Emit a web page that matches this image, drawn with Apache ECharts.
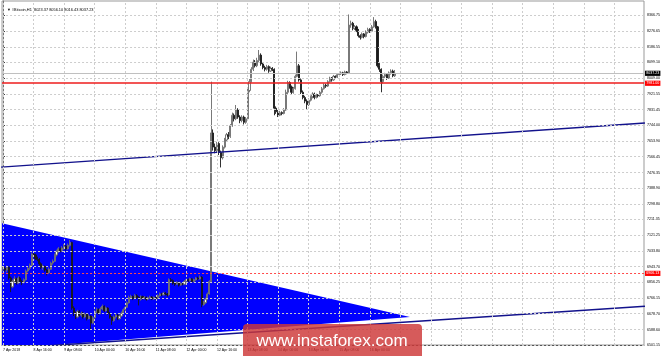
<!DOCTYPE html>
<html><head><meta charset="utf-8">
<script src="https://cdn.jsdelivr.net/npm/echarts@6/dist/echarts.min.js"></script>
<style>html,body{margin:0;padding:0;background:#fff}#c{width:665px;height:356px}</style>
</head><body><div id="c"></div>
<script>
// ---------- data ----------
const symbolName = '#Bitcoin,H1';
const xLabels = ['7 Apr 2018','8 Apr 16:00','9 Apr 08:00','10 Apr 00:00','10 Apr 16:00','11 Apr 08:00','12 Apr 00:00','12 Apr 16:00','13 Apr 08:00','14 Apr 00:00','14 Apr 16:00','15 Apr 08:00','16 Apr 00:00'];
const labelStep = 16;
const totalSlots = 336;
const yTicks = [8366.75,8276.65,8186.55,8099.10,8009.00,7921.55,7831.45,7744.00,7653.90,7566.45,7476.35,7388.90,7298.80,7211.35,7121.25,7033.80,6943.70,6856.25,6766.15,6678.70,6588.60,6501.15];
// [open, close, low, high]
const candles = [
[6930,6935,6918,6948],[6935,6925,6915,6945],[6925,6940,6912,6950],[6940,6880,6870,6945],[6880,6830,6800,6888],
[6830,6860,6822,6870],[6860,6875,6850,6890],[6875,6850,6842,6882],[6850,6880,6845,6890],[6880,6860,6852,6886],
[6860,6855,6840,6870],[6855,6870,6848,6878],[6870,6920,6865,6928],[6920,6935,6912,6945],[6935,6950,6925,6962],
[6950,7015,6945,7025],[7015,7010,6998,7030],[7010,6990,6982,7018],[6990,6985,6975,7000],[6985,6960,6950,6992],
[6960,6940,6930,6968],[6940,6945,6925,6955],[6945,6925,6915,6950],[6925,6910,6895,6932],[6910,6930,6902,6940],
[6930,6965,6925,6972],[6965,6975,6955,6985],[6975,7010,6970,7018],[7010,7030,7002,7040],[7030,7045,7022,7055],
[7045,7035,7025,7052],[7035,7050,7028,7060],[7050,7060,7040,7072],[7060,7045,7035,7066],[7045,7065,7040,7075],
[7065,7080,7058,7095],[7080,6710,6700,7085],[6710,6680,6665,6720],[6680,6660,6648,6690],[6660,6690,6652,6700],
[6690,6670,6662,6698],[6670,6680,6660,6690],[6680,6660,6650,6688],[6660,6675,6652,6685],[6675,6650,6640,6682],
[6650,6665,6645,6675],[6665,6625,6590,6670],[6625,6655,6618,6665],[6655,6690,6650,6700],[6690,6700,6680,6712],
[6700,6680,6672,6708],[6680,6705,6675,6715],[6705,6720,6698,6730],[6720,6695,6688,6725],[6695,6710,6690,6718],
[6710,6680,6672,6715],[6680,6660,6650,6688],[6660,6640,6615,6665],[6640,6660,6632,6668],[6660,6670,6650,6680],
[6670,6650,6642,6676],[6650,6665,6645,6672],[6665,6680,6660,6690],[6680,6700,6675,6708],[6700,6715,6692,6722],
[6715,6740,6710,6748],[6740,6770,6735,6780],[6770,6775,6760,6785],[6775,6765,6755,6782],[6765,6780,6760,6790],
[6780,6770,6762,6788],[6770,6760,6725,6776],[6760,6775,6752,6782],[6775,6765,6758,6780],[6765,6770,6760,6778],
[6770,6760,6752,6775],[6760,6768,6755,6774],[6768,6772,6762,6780],[6772,6762,6755,6778],[6762,6770,6756,6776],
[6770,6765,6758,6775],[6765,6780,6760,6788],[6780,6790,6774,6798],[6790,6785,6778,6796],[6785,6795,6780,6802],
[6795,6790,6782,6800],[6790,6785,6775,6795],[6785,6870,6780,6878],[6870,6865,6855,6880],[6865,6850,6842,6872],
[6850,6845,6835,6858],[6845,6855,6840,6862],[6855,6840,6832,6860],[6840,6850,6835,6856],[6850,6845,6838,6855],
[6845,6860,6840,6868],[6860,6870,6855,6878],[6870,6865,6858,6876],[6865,6875,6860,6882],[6875,6860,6852,6880],
[6860,6870,6855,6876],[6870,6880,6864,6886],[6880,6875,6868,6888],[6875,6885,6870,6895],[6885,6730,6715,6890],
[6730,6740,6722,6750],[6740,6760,6735,6768],[6760,6790,6755,6798],[6790,6860,6785,6868],[6860,7700,6850,7990],
[7700,7620,7600,7720],[7620,7600,7585,7640],[7600,7640,7590,7650],[7640,7590,7575,7648],[7590,7560,7505,7600],
[7560,7620,7550,7630],[7620,7660,7612,7672],[7660,7690,7650,7700],[7690,7680,7665,7705],[7680,7740,7672,7750],
[7740,7800,7735,7815],[7800,7780,7765,7810],[7780,7830,7772,7858],[7830,7790,7780,7840],[7790,7770,7755,7800],
[7770,7790,7760,7800],[7790,7760,7748,7798],[7760,7780,7752,7790],[7780,7940,7775,7950],[7940,7990,7930,8005],
[7990,8060,7985,8072],[8060,8100,8050,8115],[8100,8080,8070,8112],[8080,8110,8072,8125],[8110,8140,8100,8169],
[8140,8090,8080,8150],[8090,8070,8060,8098],[8070,8060,8048,8080],[8060,8075,8052,8085],[8075,8050,8040,8082],
[8050,8065,8045,8075],[8065,8060,8050,8072],[8060,7840,7800,8065],[7840,7820,7808,7850],[7820,7800,7790,7830],
[7800,7815,7795,7825],[7815,7810,7800,7822],[7810,7830,7805,7840],[7830,7930,7825,7945],[7930,7985,7920,7995],
[7985,7960,7950,7992],[7960,7930,7920,7968],[7930,7950,7922,7960],[7950,8020,7945,8030],[8020,8080,8015,8160],
[8080,8000,7990,8090],[8000,7930,7920,8008],[7930,7900,7890,7940],[7900,7880,7868,7910],[7880,7860,7830,7890],
[7860,7885,7852,7895],[7885,7905,7878,7912],[7905,7920,7895,7930],[7920,7900,7890,7928],[7900,7915,7895,7922],
[7915,7910,7900,7920],[7910,7930,7905,7938],[7930,7950,7922,7960],[7950,7970,7945,7980],[7970,7965,7955,7978],
[7965,7990,7960,7998],[7990,8010,7985,8018],[8010,8000,7990,8016],[8000,8020,7995,8028],[8020,8015,8005,8025],
[8015,8030,8010,8038],[8030,8035,8022,8042],[8035,8040,8028,8048],[8040,8030,8022,8046],[8030,8045,8025,8052],
[8045,8040,8032,8050],[8040,8310,8035,8370],[8310,8320,8295,8335],[8320,8290,8280,8328],[8290,8300,8282,8310],
[8300,8280,8270,8308],[8280,8250,8240,8288],[8250,8240,8228,8258],[8240,8260,8235,8268],[8260,8245,8235,8265],
[8245,8270,8240,8280],[8270,8285,8262,8295],[8285,8275,8265,8292],[8275,8300,8270,8310],[8300,8330,8295,8355],
[8330,8300,8290,8340],[8300,8080,8070,8305],[8080,8060,8045,8095],[8060,7990,7930,8065],[7990,8020,7980,8030],
[8020,8030,8010,8040],[8030,8010,8000,8036],[8010,8040,8005,8048],[8040,8050,8030,8060],[8050,8023.37,8015,8058],
[8023.37,8037.23,8016.43,8056.10]
];
const bidPrice = 8037.23;
const resistanceLevel = 7981.00;
const dashedLevel = 6906.13;
const upperChannel = [[-1, 7506.8], [336, 7756.5]];
const lowerChannel = [[-1, 6479.5], [336, 6720.3]];
const triangleX = [-10, 213, -10];
const triangleY = [7212.6, 6659, 6469.6];
const yMin = 6501.15, yMax = 8446;

// ---------- build ----------
const categories = Array.from({length: totalSlots}, (_, i) => String(i));
const vGrid = [];
for (let i = 0; i < totalSlots; i += labelStep) vGrid.push(i);
const last = candles[candles.length - 1];
const titleText = '\u25BC ' + symbolName + '  ' + [last[0], last[3], last[2], last[1]].map(v => v.toFixed(2)).join(' ');
const FONT = 'Liberation Sans';

const chart = echarts.init(document.getElementById('c'), null, {renderer: 'canvas'});
chart.setOption({
  animation: false,
  backgroundColor: '#fff',
  title: {text: titleText, left: 2, top: 3, textStyle: {fontSize: 3.9, fontWeight: 'normal', color: '#000', fontFamily: FONT}},
  grid: {left: 0, right: 21, top: 1, bottom: 11, show: true, borderColor: '#999', borderWidth: 1},
  xAxis: [{
    type: 'category', data: categories, boundaryGap: true,
    axisLine: {lineStyle: {color: '#555'}},
    axisTick: {interval: labelStep - 1, length: 2, lineStyle: {color: '#333'}},
    axisLabel: {interval: labelStep - 1, align: 'left', margin: 3, fontSize: 3.5, color: '#000', fontFamily: FONT,
      formatter: (v, idx) => (idx % labelStep === 0 && idx / labelStep < xLabels.length) ? xLabels[idx / labelStep] : ''},
    splitLine: {show: false}
  }, {
    type: 'value', min: -0.5, max: totalSlots - 0.5, show: false
  }],
  yAxis: {
    type: 'value', position: 'right', min: yMin, max: yMax, scale: true,
    axisLine: {show: true, lineStyle: {color: '#777'}},
    axisTick: {show: true, length: 2, customValues: yTicks, lineStyle: {color: '#333'}},
    axisLabel: {customValues: yTicks, formatter: v => v.toFixed(2), fontSize: 3.6, color: '#000', margin: 3, fontFamily: FONT},
    splitLine: {show: false}
  },
  series: [
    {
      type: 'custom', name: 'triangle', xAxisIndex: 1, z: 1, clip: true, silent: true,
      data: [[0, 0]],
      renderItem: (params, api) => {
        const pts = triangleX.map((x, k) => api.coord([x, triangleY[k]]));
        return {type: 'polygon', shape: {points: pts}, style: {fill: '#0000ff', stroke: null}};
      }
    },
    {
      type: 'line', name: 'grid', xAxisIndex: 1, z: 2, data: [], silent: true,
      markLine: {
        silent: true, symbol: ['none', 'none'], label: {show: false}, animation: false,
        lineStyle: {color: '#cdcdcd', type: [2, 2], width: 1},
        data: yTicks.map(v => ({yAxis: v})).concat(vGrid.map(i => ({xAxis: i})))
      }
    },
    {
      type: 'candlestick', name: 'price', z: 3, barWidth: 1.6,
      data: candles,
      itemStyle: {color: '#ffffff', borderColor: '#6a6a6a', color0: '#1a1a1a', borderColor0: '#1a1a1a', borderWidth: 0.9}
    },
    {
      type: 'line', name: 'upper', xAxisIndex: 1, z: 4, symbol: 'none', clip: true, silent: true,
      data: upperChannel, lineStyle: {color: '#12128c', width: 1.5}
    },
    {
      type: 'line', name: 'lower', xAxisIndex: 1, z: 4, symbol: 'none', clip: true, silent: true,
      data: lowerChannel, lineStyle: {color: '#12128c', width: 1.5}
    },
    {
      type: 'line', name: 'levels', xAxisIndex: 1, z: 5, data: [], silent: true,
      markLine: {
        silent: true, symbol: ['none', 'none'], animation: false,
        label: {show: true, position: 'end', distance: 1, fontSize: 3.6, fontFamily: FONT, color: '#fff', padding: [0.6, 1.2]},
        data: [
          {yAxis: bidPrice, lineStyle: {color: '#c0c0c0', type: 'solid', width: 1},
            label: {formatter: bidPrice.toFixed(2), backgroundColor: '#000'}},
          {yAxis: resistanceLevel, lineStyle: {color: '#ee1c1c', type: 'solid', width: 1.6},
            label: {formatter: resistanceLevel.toFixed(2), backgroundColor: '#ff0000'}},
          {yAxis: dashedLevel, lineStyle: {color: '#ff4a4a', type: [2, 2], width: 1},
            label: {formatter: dashedLevel.toFixed(2), backgroundColor: '#ff0000'}}
        ]
      }
    }
  ],
  graphic: [
    {type: 'rect', z: 100, silent: true, shape: {x: 243, y: 324, width: 179, height: 40, r: [4, 4, 0, 0]}, style: {fill: 'rgba(205,55,55,0.82)'}},
    {type: 'text', z: 101, silent: true, style: {text: 'www.instaforex.com', x: 332, y: 341, fill: '#fff', font: '17px "Liberation Sans"', textAlign: 'center', textVerticalAlign: 'middle'}}
  ]
});
</script>
</body></html>
